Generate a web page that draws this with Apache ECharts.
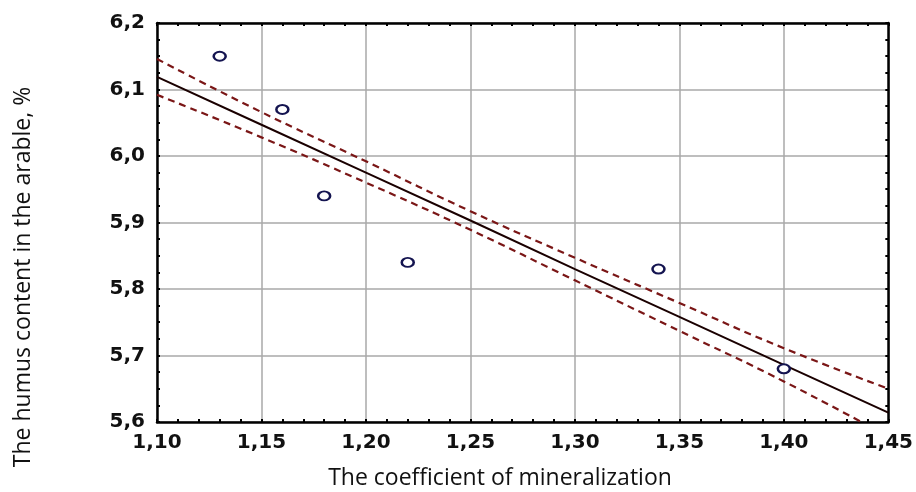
<!DOCTYPE html>
<html>
<head>
<meta charset="utf-8">
<script src="https://cdn.jsdelivr.net/npm/echarts@6/dist/echarts.min.js"></script>
<style>
  html, body { margin: 0; padding: 0; background: #fff; }
  #chart { width: 916px; height: 492px; }
</style>
</head>
<body>
<div id="chart"></div>
<script>
// observed points
var pointX = [1.13, 1.16, 1.18, 1.22, 1.34, 1.40];
var pointY = [6.15, 6.07, 5.94, 5.84, 5.83, 5.68];

// fitted line and confidence band, read at the grid ticks
var bandX = [1.10, 1.15, 1.20, 1.25, 1.30, 1.35, 1.40, 1.45];
var fitY = [6.119, 6.047, 5.975, 5.903, 5.830, 5.758, 5.686, 5.614];
var upperY = [6.146, 6.066, 5.992, 5.917, 5.847, 5.779, 5.711, 5.650];
var lowerY = [6.092, 6.028, 5.960, 5.889, 5.813, 5.737, 5.661, 5.578];

var xTitle = 'The coefficient of mineralization';
var yTitle = 'The humus content in the arable, %';

function pairs(xs, ys) {
  return xs.map(function (x, i) { return [x, ys[i]]; });
}

var chart = echarts.init(document.getElementById('chart'));

var tickFont = { fontFamily: 'DejaVu Sans', fontWeight: 'bold', fontSize: 20, color: '#111' };
var frameLine = { show: true, lineStyle: { color: '#000', width: 2.5 } };
var tick = { show: true, inside: true, length: 3, lineStyle: { color: '#000', width: 2 } };

chart.setOption({
  animation: false,
  backgroundColor: '#fff',
  grid: { left: 157, right: 26, top: 23, bottom: 70 },
  xAxis: [{
    type: 'value', min: 1.10, max: 1.45, interval: 0.05,
    axisLine: frameLine, axisTick: tick,
    minorTick: { show: true, splitNumber: 5, length: 3, lineStyle: { color: '#000', width: 2 } },
    splitLine: { show: true, lineStyle: { color: '#a8a8a8', width: 1.5 } },
    axisLabel: Object.assign({ margin: 11, formatter: function (v) { return v.toFixed(2).replace('.', ','); } }, tickFont)
  }, {
    type: 'value', position: 'top', min: 1.10, max: 1.45, interval: 0.05,
    axisLine: frameLine, axisTick: tick,
    minorTick: { show: true, splitNumber: 5, length: 3, lineStyle: { color: '#000', width: 2 } },
    splitLine: { show: false },
    axisLabel: { show: false }
  }],
  yAxis: [{
    type: 'value', min: 5.6, max: 6.2, interval: 0.1,
    axisLine: frameLine, axisTick: tick,
    minorTick: { show: true, splitNumber: 4, length: 3, lineStyle: { color: '#000', width: 2 } },
    splitLine: { show: true, lineStyle: { color: '#a8a8a8', width: 1.5 } },
    axisLabel: Object.assign({ margin: 12, formatter: function (v) { return v.toFixed(1).replace('.', ','); } }, tickFont)
  }, {
    type: 'value', position: 'right', min: 5.6, max: 6.2, interval: 0.1,
    axisLine: frameLine, axisTick: tick,
    minorTick: { show: true, splitNumber: 4, length: 3, lineStyle: { color: '#000', width: 2 } },
    splitLine: { show: false },
    axisLabel: { show: false }
  }],
  series: [{
    type: 'line', xAxisIndex: 0, yAxisIndex: 0,
    data: pairs(bandX, upperY), smooth: true, symbol: 'none',
    lineStyle: { color: '#7a1616', width: 2.2, type: [7, 5] }
  }, {
    type: 'line', xAxisIndex: 0, yAxisIndex: 0,
    data: pairs(bandX, lowerY), smooth: true, symbol: 'none',
    lineStyle: { color: '#7a1616', width: 2.2, type: [7, 5] }
  }, {
    type: 'line', xAxisIndex: 0, yAxisIndex: 0,
    data: pairs(bandX, fitY), symbol: 'none',
    lineStyle: { color: '#1a0000', width: 2 }
  }, {
    type: 'scatter', xAxisIndex: 0, yAxisIndex: 0, z: 5,
    data: pairs(pointX, pointY),
    symbol: 'circle', symbolSize: [12, 9],
    itemStyle: { color: '#ffffff', borderColor: '#141450', borderWidth: 2.2, opacity: 1 }
  }],
  graphic: [{
    type: 'text', x: 500, y: 478,
    style: { text: xTitle, font: '23px "Open Sans"', fill: '#111', align: 'center', verticalAlign: 'middle' }
  }, {
    type: 'text', x: 23, y: 277, rotation: Math.PI / 2,
    style: { text: yTitle, font: '23px "Open Sans"', fill: '#111', align: 'center', verticalAlign: 'middle' }
  }]
});
</script>
</body>
</html>
